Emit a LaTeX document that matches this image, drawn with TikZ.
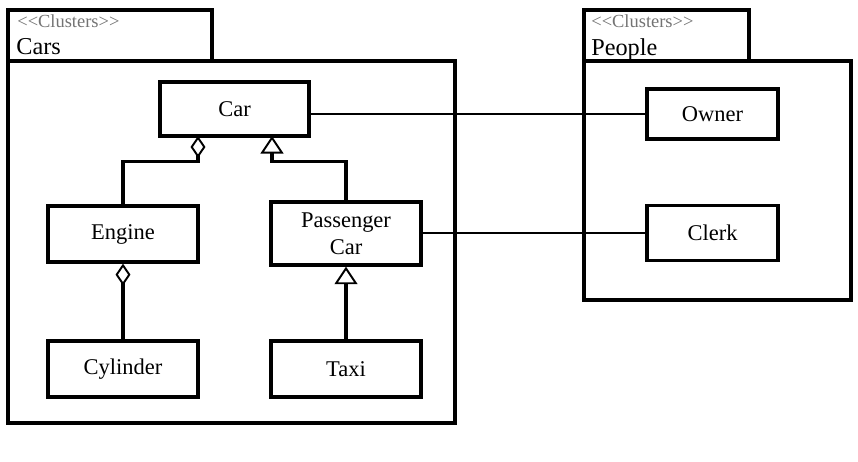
\documentclass[tikz,border=0pt]{standalone}
\usepackage{fontspec}
\setmainfont{Liberation Serif}
\usetikzlibrary{arrows.meta}
\tikzset{
  cls/.style={draw,line width=1.9pt,minimum width=3cm,minimum height=1.12cm,inner sep=0pt,align=center,font=\fontsize{12.8}{15.5}\selectfont},
  pkg/.style={line width=1.9pt},
  stereo/.style={anchor=base west,inner sep=0pt,text=black!55,font=\fontsize{10.5}{12}\selectfont},
  pkgname/.style={anchor=base west,inner sep=0pt,font=\fontsize{13.8}{15}\selectfont},
  aggr/.style={line width=1.9pt,-{Diamond[open,length=12.5pt,width=8.5pt,line width=1.1pt]}},
  gen/.style={line width=1.9pt,-{Triangle[open,length=10pt,width=13pt,line width=1.1pt]}},
  assoc/.style={line width=1.2pt}
}

\begin{document}
\begin{tikzpicture}[x=0.02cm,y=-0.02cm]
\newcommand{\pplwd}{2.62cm}
\useasboundingbox (0,0) rectangle (858,462);

\draw[pkg] (8,10) rectangle (212,61);
\draw[pkg] (8,61) rectangle (455,423);
\node[stereo] (carsst) at (17,28) {{<}{<}Clusters{>}{>}};
\node[pkgname] (carsname) at (16,55) {Cars};

\draw[pkg] (584,10) rectangle (749,61);
\draw[pkg] (584,61) rectangle (851,300);
\node[stereo] (pplst) at (591,28) {{<}{<}Clusters{>}{>}};
\node[pkgname] (pplname) at (591,56) {People};

\node[cls,minimum width=2.98cm,minimum height=1.08cm] (car) at (234.5,109) {Car};
\node[cls] (engine) at (123,234) {Engine};
\node[cls,minimum height=1.26cm] (pcar) at (346,233.5) {Passenger\\Car};
\node[cls] (cylinder) at (123,369) {Cylinder};
\node[cls] (taxi) at (346,369) {Taxi};
\node[cls,minimum width=\pplwd,minimum height=1cm] (owner) at (712.5,114) {Owner};
\node[cls,minimum width=\pplwd,minimum height=1.1cm] (clerk) at (712.5,233) {Clerk};

\coordinate (carL) at (198,136);
\coordinate (carR) at (272,136);

\draw[aggr] (engine.north) -- ++(0,-43) -| (carL);
\draw[gen] (pcar.north) -- ++(0,-39) -| (carR);
\draw[aggr] (cylinder.north) -- (engine.south);
\draw[gen] (taxi.north) -- (pcar.south);

\draw[assoc] (owner.west) -- (owner.west -| car.east);
\draw[assoc] (clerk.west) -- (clerk.west -| pcar.east);
\end{tikzpicture}
\end{document}
